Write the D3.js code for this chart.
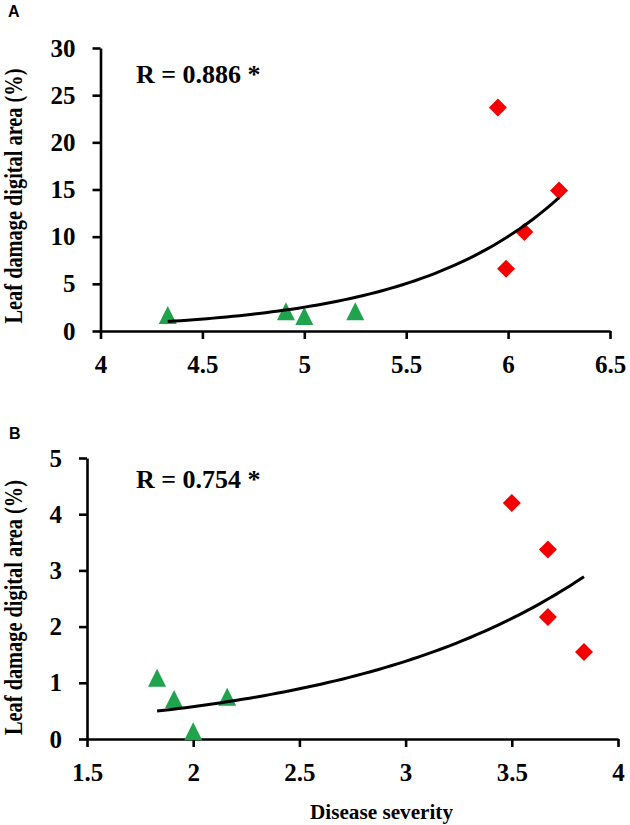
<!DOCTYPE html>
<html>
<head>
<meta charset="utf-8">
<script src="https://cdn.jsdelivr.net/npm/d3@7"></script>
<style>
	body { margin:0; background:#fff; }
	svg { display:block; }
	.axis path, .axis line { stroke:#000; stroke-width:2.6px; }
	.axis text { fill:#000; }
	.trend { fill:none; stroke:#000; stroke-width:3px; }
</style>
</head>
<body>
<svg id="chart" width="630" height="825"></svg>
<script>
// Panel A
var aTicksX = [4, 4.5, 5, 5.5, 6, 6.5];
var aTicksY = [0, 5, 10, 15, 20, 25, 30];
var aGreenX = [4.33, 4.91, 5.0, 5.25];
var aGreenY = [1.7, 2.1, 1.6, 2.1];
var aRedX = [5.95, 6.25, 6.08, 5.99];
var aRedY = [23.7, 14.9, 10.5, 6.6];
var aLabel = "R = 0.886 *";

// Panel B
var bTicksX = [1.5, 2, 2.5, 3, 3.5, 4];
var bTicksY = [0, 1, 2, 3, 4, 5];
var bGreenX = [1.83, 1.91, 2.0, 2.16];
var bGreenY = [1.09, 0.71, 0.14, 0.75];
var bRedX = [3.5, 3.67, 3.67, 3.84];
var bRedY = [4.2, 3.37, 2.17, 1.55];
var bLabel = "R = 0.754 *";

var yTitle = "Leaf damage digital area (%)";
var xTitle = "Disease severity";

var serif = "'Liberation Serif', 'Times New Roman', serif";
var green = "#1fa34d", red = "#f40000";
var svg = d3.select("#chart");

// Excel style exponential trendline: least squares on ln(y)
function expFit(xs, ys) {
	var lx = d3.mean(xs), ly = d3.mean(ys, function(v) {return Math.log(v);});
	var sxy = 0, sxx = 0;
	xs.forEach(function(x, i) {
		sxy += (x - lx) * (Math.log(ys[i]) - ly);
		sxx += (x - lx) * (x - lx);
	});
	var b = sxy / sxx;
	return {a: Math.exp(ly - b * lx), b: b};
}

function triangle(r) {return "M0," + (-r) + "L" + r + "," + r + "L" + (-r) + "," + r + "Z";}
function diamond(r) {return "M0," + (-r) + "L" + r + ",0L0," + r + "L" + (-r) + ",0Z";}

function drawPanel(p) {
	var x = d3.scaleLinear().domain(d3.extent(p.ticksX)).range(p.xr);
	var y = d3.scaleLinear().domain(d3.extent(p.ticksY)).range(p.yr);
	var g = svg.append("g");

	g.append("text")
		.attr("x", p.name[1])
		.attr("y", p.name[2])
		.attr("font-family", "'Liberation Sans', Arial, sans-serif")
		.attr("font-weight", "bold")
		.attr("font-size", 16)
		.text(p.name[0])
	;

	g.append("g")
		.attr("class", "axis")
		.attr("transform", "translate(0," + p.yr[0] + ")")
		.call(d3.axisBottom(x).tickValues(p.ticksX).tickFormat(d3.format("")).tickSize(8).tickSizeOuter(0).tickPadding(16))
	;
	g.append("g")
		.attr("class", "axis")
		.attr("transform", "translate(" + p.xr[0] + ",0)")
		.call(d3.axisLeft(y).tickValues(p.ticksY).tickFormat(d3.format("")).tickSize(8).tickSizeOuter(0).tickPadding(17))
	;
	g.selectAll(".axis")
		.attr("font-family", serif)
		.attr("font-weight", "bold")
		.attr("font-size", 25)
	;

	var greens = p.gx.map(function(v, i) {return {x: v, y: p.gy[i]};});
	var reds = p.rx.map(function(v, i) {return {x: v, y: p.ry[i]};});

	g.selectAll("path.tri").data(greens).enter().append("path")
		.attr("class", "tri")
		.attr("d", triangle(9))
		.attr("fill", green)
		.attr("transform", function(d) {return "translate(" + x(d.x) + "," + y(d.y) + ")";})
	;
	g.selectAll("path.dia").data(reds).enter().append("path")
		.attr("class", "dia")
		.attr("d", diamond(9))
		.attr("fill", red)
		.attr("transform", function(d) {return "translate(" + x(d.x) + "," + y(d.y) + ")";})
	;

	var all = greens.concat(reds);
	var fit = expFit(all.map(function(d) {return d.x;}), all.map(function(d) {return d.y;}));
	var ext = d3.extent(all, function(d) {return d.x;});
	var pts = d3.range(0, 61).map(function(i) {
		var xv = ext[0] + (ext[1] - ext[0]) * i / 60;
		return [xv, fit.a * Math.exp(fit.b * xv)];
	});
	g.append("path")
		.attr("class", "trend")
		.attr("d", d3.line().x(function(d) {return x(d[0]);}).y(function(d) {return y(d[1]);})(pts))
	;

	g.append("text")
		.attr("x", 136)
		.attr("y", p.ry0)
		.attr("font-family", serif)
		.attr("font-weight", "bold")
		.attr("font-size", 26)
		.text(p.label)
	;

	g.append("text")
		.attr("transform", "translate(21.5," + p.ty + ") rotate(-90)")
		.attr("text-anchor", "middle")
		.attr("font-family", serif)
		.attr("font-weight", "bold")
		.attr("font-size", 25)
		.attr("textLength", 255)
		.attr("lengthAdjust", "spacingAndGlyphs")
		.text(yTitle)
	;
}

drawPanel({name: ["A", 8, 17], ticksX: aTicksX, ticksY: aTicksY, gx: aGreenX, gy: aGreenY, rx: aRedX, ry: aRedY,
	label: aLabel, xr: [100.5, 610], yr: [331, 48], ry0: 83, ty: 196});
drawPanel({name: ["B", 9, 439], ticksX: bTicksX, ticksY: bTicksY, gx: bGreenX, gy: bGreenY, rx: bRedX, ry: bRedY,
	label: bLabel, xr: [87, 618], yr: [739, 458], ry0: 488, ty: 607.5});

svg.append("text")
	.attr("x", 381.5)
	.attr("y", 819)
	.attr("text-anchor", "middle")
	.attr("font-family", serif)
	.attr("font-weight", "bold")
	.attr("font-size", 21)
	.attr("textLength", 143)
	.attr("lengthAdjust", "spacingAndGlyphs")
	.text(xTitle)
;
</script>
</body>
</html>
